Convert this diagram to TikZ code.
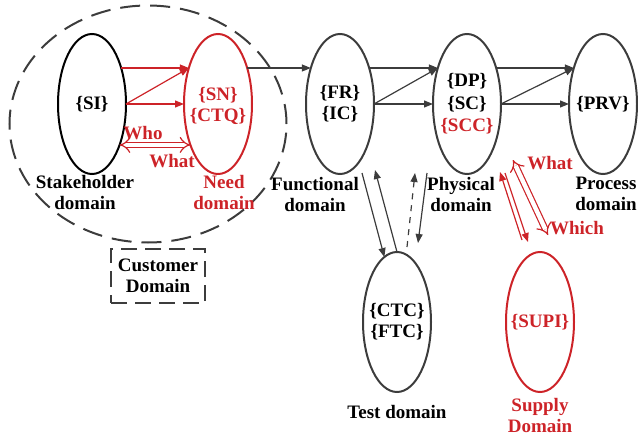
\documentclass[tikz,border=0pt]{standalone}
\usepackage{fontspec}
\setmainfont{Liberation Serif}
\usetikzlibrary{arrows.meta, positioning, calc, shapes.geometric}
\definecolor{dred}{RGB}{205,35,40}
\definecolor{dgray}{RGB}{60,60,60}

\begin{document}
\begin{tikzpicture}[x=0.5pt, y=-0.5pt,
  every node/.style={font=\fontsize{9.5}{10.5}\selectfont\bfseries, align=center, inner sep=0pt, outer sep=0pt},
  dom/.style={ellipse, draw=dgray, line width=1pt, minimum width=34pt, minimum height=70pt},
  link/.style={draw=dgray, line width=0.6pt, -{Triangle[length=4.5pt,width=3.5pt]}},
  rlink/.style={link, draw=dred},
  hollow/.style={draw=dred, line width=0.6pt, double=white, double distance=2.2pt, {Implies[scale=1.3]}-{Implies[scale=1.3]}}]
  \useasboundingbox (0,0) rectangle (638,439);

  % منطقة الزبون
  \node[ellipse, draw=dgray, line width=1pt, dash pattern=on 10pt off 5pt,
        minimum width=138.5pt, minimum height=118.5pt] (custzone) at (148,124) {};
  \node[draw=dgray, line width=1pt, dash pattern=on 8pt off 4pt,
        minimum width=47pt, minimum height=27pt] (custbox) at (158,276) {Customer\\Domain};

  % المجالات
  \node[dom, draw=black] (si) at (92,104) {};
  \node (sitxt) at (si) {\{SI\}};
  \node[dom, draw=dred] (sn) at (218,104) {};
  \node[text=dred] (sntxt) at (218,106) {\{SN\}\\\{CTQ\}};
  \node[dom] (fr) at (340,104) {};
  \node (frtxt) at (fr) {\{FR\}\\\{IC\}};
  \node[dom] (dp) at (467,104) {};
  \node[font=\fontsize{9.5}{11.3}\selectfont\bfseries] (dptxt) at (dp) {\{DP\}\\\{SC\}\\\textcolor{dred}{\{SCC\}}};
  \node[dom] (prv) at (603,104) {};
  \node (prvtxt) at (prv) {\{PRV\}};
  \node[dom] (ctc) at (397,322) {};
  \node (ctctxt) at (ctc) {\{CTC\}\\\{FTC\}};
  \node[dom, draw=dred] (supi) at (540,322) {};
  \node[text=dred] (supitxt) at (supi) {\{SUPI\}};

  % أسماء المجالات
  \node (silab) at (85,193) {Stakeholder\\domain};
  \node[text=dred] (snlab) at (224,193) {Need\\domain};
  \node (frlab) at (315,194) {Functional\\domain};
  \node (dplab) at (461,194) {Physical\\domain};
  \node (prvlab) at (606,194) {Process\\domain};
  \node (ctclab) at (397,412) {Test domain};
  \node[text=dred] (supilab) at (540,415) {Supply\\Domain};

  % من SI إلى SN
  \draw[rlink] (si.51) -- (sn.129);
  \draw[rlink] (si.east) -- (sn.129);
  \draw[rlink] (si.east) -- (sn.west);
  \draw[hollow] (si.-56) -- (sn.-124);
  \node[text=dred] (who) at (143,133) {Who};
  \node[text=dred] (what) at (172,161) {What};

  % السلسلة العلوية
  \draw[link] (sn.51) -- (fr.129);
  \draw[link] (fr.51) -- (dp.129);
  \draw[link] (fr.east) -- (dp.129);
  \draw[link] (fr.east) -- (dp.west);
  \draw[link] (dp.51) -- (prv.129);
  \draw[link] (dp.east) -- (prv.129);
  \draw[link] (dp.east) -- (prv.west);

  % مجال الاختبار
  \draw[link] ($(fr.south)+(22,-1)$) -- (ctc.101);
  \draw[link] (ctc.north) -- ($(fr.south)+(35,-4)$);
  \draw[link, dashed] ($(ctc.north)+(10,-5)$) -- ($(dp.south)+(-52,-1)$);
  \draw[link] ($(dp.south)+(-40,-1)$) -- ($(ctc.north)+(21,-9)$);

  % مجال التوريد
  \draw[rlink] ($(supi.north)+(-18,-12)$) -- ($(dp.south)+(33,-2)$);
  \draw[rlink] ($(dp.south)+(38,-1)$) -- ($(supi.north)+(-12,-10)$);
  \draw[hollow] ($(dp.south)+(46,-14)$) -- ($(supi.north)+(8,-17)$);
  \node[text=dred] (whatb) at (550,163) {What};
  \node[text=dred] (which) at (577,228) {Which};
\end{tikzpicture}
\end{document}
